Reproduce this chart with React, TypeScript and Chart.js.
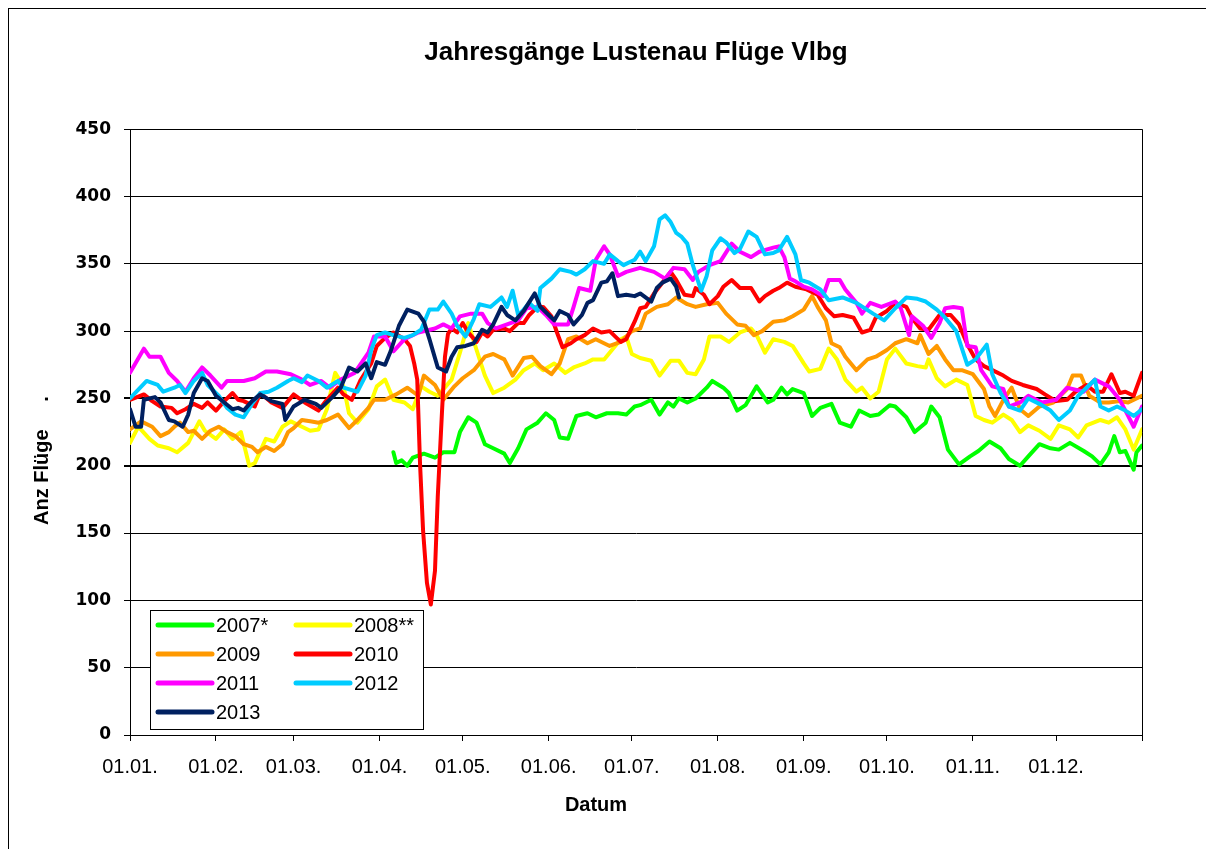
import React, { useEffect, useRef } from 'react';
import { Chart, registerables } from 'chart.js';

Chart.register(...registerables);

// Month starts (day of year) and their tick labels
const monthDays = [0, 31, 59, 90, 120, 151, 181, 212, 243, 273, 304, 334, 365];
const monthLabels = ['01.01.', '01.02.', '01.03.', '01.04.', '01.05.', '01.06.', '01.07.', '01.08.', '01.09.', '01.10.', '01.11.', '01.12.', ''];

const seriesLabels = ['2007*', '2008**', '2009', '2010', '2011', '2012', '2013'];
const seriesColors = ['#00FF00', '#FFFF00', '#FF9900', '#FF0000', '#FF00FF', '#00CCFF', '#002060'];

// [day of year, flights]
const s2007: [number, number][] = [
  [95, 210], [96, 202], [98, 204], [100, 200], [102, 206], [106, 209], [110, 206], [113, 210], [117, 210], [119, 225],
  [122, 236], [125, 232], [128, 216], [131, 213], [135, 209], [137, 202], [140, 213], [143, 227], [147, 232], [150, 239],
  [153, 234], [155, 221], [158, 220], [161, 237], [165, 239], [168, 236], [172, 239], [176, 239], [179, 238], [182, 244],
  [184, 245], [188, 249], [191, 238], [194, 247], [196, 244], [198, 250], [201, 247], [204, 250], [208, 258], [210, 263],
  [214, 258], [216, 254], [219, 241], [222, 245], [226, 259], [230, 247], [232, 249], [235, 258], [237, 253], [239, 257],
  [243, 254], [246, 237], [249, 243], [253, 246], [256, 232], [260, 229], [263, 241], [267, 237], [270, 238], [274, 245],
  [276, 244], [280, 236], [283, 225], [287, 232], [289, 244], [292, 236], [295, 212], [299, 201], [303, 207], [306, 211],
  [310, 218], [314, 213], [317, 205], [321, 200], [324, 207], [328, 216], [332, 213], [335, 212], [339, 217], [344, 211],
  [347, 207], [350, 201], [353, 210], [355, 222], [357, 210], [359, 211], [362, 197], [363, 210], [365, 215],
];

const s2008: [number, number][] = [
  [0, 217], [3, 229], [7, 220], [10, 215], [14, 213], [17, 210], [21, 217], [25, 233], [27, 226], [31, 220],
  [34, 227], [37, 220], [40, 225], [43, 200], [45, 202], [49, 220], [52, 218], [55, 229], [58, 233], [62, 229],
  [65, 226], [68, 227], [71, 242], [74, 269], [77, 259], [79, 239], [82, 232], [86, 242], [89, 259], [92, 264],
  [95, 249], [99, 247], [102, 242], [105, 259], [108, 255], [111, 252], [116, 264], [119, 284], [122, 306], [125, 286],
  [128, 267], [131, 254], [135, 258], [139, 264], [142, 271], [146, 276], [149, 271], [153, 276], [157, 269], [160, 273],
  [164, 276], [167, 279], [171, 279], [175, 289], [177, 294], [179, 296], [181, 283], [184, 280], [188, 278], [191, 267],
  [195, 278], [198, 278], [201, 269], [204, 268], [207, 279], [209, 296], [213, 296], [216, 292], [220, 299], [224, 302],
  [226, 297], [229, 284], [232, 294], [236, 292], [239, 289], [243, 276], [245, 270], [249, 272], [252, 287], [255, 279],
  [258, 264], [262, 255], [264, 258], [267, 250], [270, 255], [273, 279], [276, 287], [280, 276], [284, 274], [287, 273],
  [288, 279], [291, 265], [294, 259], [298, 264], [302, 260], [305, 237], [308, 234], [311, 232], [315, 238], [318, 234],
  [321, 225], [324, 230], [328, 226], [332, 220], [335, 230], [339, 227], [342, 221], [345, 230], [350, 234], [353, 232],
  [356, 236], [359, 227], [362, 212], [365, 227],
];

const s2009: [number, number][] = [
  [0, 227], [4, 233], [8, 229], [11, 222], [14, 225], [16, 229], [18, 232], [21, 225], [23, 226], [26, 220],
  [29, 226], [32, 229], [35, 225], [38, 222], [41, 216], [44, 214], [46, 210], [49, 214], [52, 211], [55, 216],
  [57, 225], [59, 228], [62, 234], [65, 233], [68, 232], [71, 234], [75, 238], [79, 228], [82, 234], [86, 243],
  [88, 249], [92, 249], [96, 253], [100, 258], [104, 252], [106, 267], [110, 260], [113, 249], [117, 259], [120, 265],
  [124, 271], [128, 281], [131, 283], [135, 279], [138, 267], [142, 280], [145, 281], [148, 274], [152, 268], [155, 276],
  [158, 294], [161, 296], [165, 291], [168, 294], [173, 289], [177, 292], [181, 300], [184, 302], [186, 313], [190, 318],
  [194, 320], [197, 325], [201, 320], [204, 318], [208, 320], [212, 321], [215, 313], [219, 305], [222, 304], [225, 297],
  [228, 300], [232, 307], [236, 308], [239, 311], [243, 316], [246, 326], [248, 318], [251, 308], [253, 291], [256, 288],
  [258, 281], [262, 271], [266, 279], [269, 281], [273, 286], [276, 291], [280, 294], [284, 291], [285, 297], [288, 283],
  [291, 289], [294, 279], [297, 271], [300, 271], [304, 268], [308, 257], [310, 244], [312, 237], [315, 249], [318, 258],
  [321, 242], [324, 237], [328, 244], [333, 247], [338, 257], [340, 267], [343, 267], [346, 252], [350, 247], [353, 247],
  [357, 248], [360, 247], [365, 252],
];

const s2010: [number, number][] = [
  [0, 249], [5, 253], [8, 248], [11, 244], [15, 243], [17, 239], [20, 242], [23, 246], [26, 243], [28, 247],
  [31, 241], [34, 248], [37, 254], [39, 249], [41, 248], [45, 244], [47, 254], [51, 247], [55, 243], [57, 248],
  [59, 253], [63, 247], [68, 241], [71, 249], [75, 258], [77, 253], [80, 249], [83, 263], [87, 276], [89, 289],
  [92, 295], [95, 299], [99, 294], [101, 289], [102.5, 276], [103.6, 264], [104.6, 202], [105.7, 152], [107.1, 113], [108.5, 97],
  [110, 122], [111, 177], [112.5, 239], [113.6, 281], [114.7, 298], [116, 302], [118, 299], [120, 306], [122, 299], [125, 292],
  [127, 299], [129, 296], [131, 301], [135, 302], [137, 300], [140, 306], [142, 306], [144, 312], [147, 318], [149, 318],
  [152, 311], [154, 299], [156, 288], [159, 291], [161, 294], [164, 297], [167, 302], [170, 299], [173, 300], [177, 292],
  [179, 294], [182, 307], [184, 317], [186, 318], [189, 328], [192, 336], [195, 344], [197, 338], [200, 327], [203, 326],
  [204, 332], [207, 327], [209, 320], [212, 326], [214, 333], [217, 338], [220, 332], [224, 332], [227, 322], [229, 326],
  [232, 330], [234, 332], [237, 336], [240, 333], [244, 331], [248, 327], [251, 317], [254, 311], [257, 312], [261, 310],
  [264, 299], [267, 301], [269, 310], [273, 315], [276, 321], [280, 318], [282, 310], [285, 302], [288, 301], [292, 312],
  [296, 312], [299, 305], [302, 290], [305, 279], [308, 274], [311, 271], [315, 267], [318, 263], [322, 260], [327, 257],
  [330, 253], [334, 248], [338, 249], [341, 255], [345, 260], [348, 255], [351, 255], [354, 268], [357, 254], [359, 255],
  [362, 252], [365, 269],
];

const s2011: [number, number][] = [
  [0, 269], [5, 287], [7, 281], [11, 281], [14, 269], [17, 263], [20, 255], [23, 265], [26, 273], [29, 267],
  [33, 258], [35, 263], [41, 263], [45, 265], [49, 270], [53, 270], [58, 268], [62, 264], [65, 260], [69, 263],
  [72, 258], [76, 264], [81, 269], [86, 284], [88, 296], [92, 296], [95, 285], [99, 294], [104, 299], [110, 302],
  [113, 305], [116, 302], [119, 311], [123, 313], [127, 313], [129, 306], [132, 302], [136, 305], [140, 308], [143, 317],
  [147, 318], [150, 312], [153, 305], [158, 305], [160, 318], [162, 332], [166, 330], [168, 353], [171, 363], [173, 357],
  [176, 341], [179, 344], [184, 347], [189, 344], [193, 339], [196, 347], [200, 346], [203, 338], [205, 344], [209, 349],
  [213, 352], [217, 365], [220, 359], [224, 355], [227, 359], [232, 362], [234, 363], [236, 355], [238, 339], [240, 337],
  [243, 333], [246, 331], [250, 326], [252, 338], [256, 338], [258, 331], [262, 321], [264, 313], [267, 321], [271, 318],
  [276, 322], [278, 317], [281, 297], [282, 311], [286, 304], [289, 295], [292, 306], [294, 317], [297, 318], [300, 317],
  [302, 289], [305, 288], [307, 271], [311, 259], [315, 257], [317, 244], [321, 247], [324, 252], [329, 247], [334, 249],
  [338, 258], [344, 255], [348, 264], [353, 259], [357, 249], [360, 237], [362, 229], [365, 244],
];

const s2012: [number, number][] = [
  [0, 250], [6, 263], [10, 260], [12, 255], [16, 258], [18, 260], [20, 254], [23, 263], [26, 269], [28, 260],
  [32, 252], [35, 243], [38, 238], [41, 236], [44, 246], [47, 254], [50, 255], [53, 258], [57, 263], [59, 265],
  [62, 262], [64, 267], [68, 263], [71, 258], [75, 263], [77, 258], [82, 255], [85, 267], [87, 286], [89, 297],
  [92, 299], [95, 297], [99, 295], [102, 297], [105, 301], [108, 316], [111, 316], [113, 322], [116, 313], [118, 304],
  [121, 296], [124, 309], [126, 320], [130, 318], [134, 325], [136, 318], [138, 330], [140, 312], [142, 316], [144, 321],
  [147, 315], [148, 332], [152, 339], [155, 346], [159, 344], [161, 342], [164, 346], [167, 352], [171, 350], [173, 357],
  [176, 352], [178, 349], [182, 353], [184, 359], [186, 352], [189, 363], [191, 383], [193, 386], [195, 381], [197, 373],
  [199, 370], [201, 365], [203, 349], [206, 330], [208, 341], [210, 360], [213, 369], [215, 366], [218, 358], [220, 361],
  [223, 374], [226, 370], [229, 357], [232, 358], [234, 360], [237, 370], [240, 357], [242, 338], [245, 336], [249, 331],
  [252, 323], [257, 325], [262, 321], [268, 313], [272, 308], [276, 317], [280, 325], [284, 324], [287, 322], [291, 316],
  [294, 310], [298, 300], [302, 275], [305, 279], [309, 290], [311, 268], [314, 254], [317, 244], [321, 241], [324, 250],
  [328, 246], [332, 241], [335, 234], [339, 241], [342, 252], [346, 260], [348, 264], [350, 244], [353, 241], [356, 244],
  [359, 241], [362, 237], [365, 242],
];

const s2013: [number, number][] = [
  [0, 242], [2, 229], [4, 229], [5, 249], [9, 251], [11, 247], [14, 234], [16, 233], [19, 229], [21, 238],
  [23, 254], [26, 265], [28, 263], [31, 252], [34, 247], [37, 242], [39, 243], [41, 241], [44, 248], [47, 253],
  [51, 248], [55, 246], [56, 234], [59, 244], [63, 249], [67, 246], [69, 243], [73, 251], [76, 258], [79, 273],
  [82, 270], [85, 276], [87, 265], [89, 277], [92, 275], [94, 285], [97, 304], [100, 316], [104, 313], [106, 307],
  [108, 294], [111, 273], [114, 270], [116, 281], [118, 288], [121, 289], [124, 291], [127, 301], [129, 299], [131, 305],
  [134, 318], [136, 312], [139, 308], [142, 315], [146, 328], [148, 318], [151, 312], [153, 308], [155, 315], [158, 312],
  [160, 305], [163, 312], [165, 321], [167, 323], [170, 336], [172, 337], [174, 343], [176, 326], [179, 327], [182, 326],
  [184, 328], [188, 322], [190, 332], [192, 336], [195, 339], [197, 333], [198, 325],
];

const allSeries = [s2007, s2008, s2009, s2010, s2011, s2012, s2013];

const decorPlugin = {
  id: 'decor',
  afterDraw(chart: any) {
    const { ctx, chartArea: a } = chart;
    ctx.save();
    // right border of plot area
    ctx.strokeStyle = '#000';
    ctx.lineWidth = 1;
    const rx = Math.round(a.right) + 0.5;
    ctx.beginPath();
    ctx.moveTo(rx, a.top);
    ctx.lineTo(rx, a.bottom);
    ctx.stroke();

    // axis titles
    ctx.fillStyle = '#000';
    ctx.font = 'bold 20px "Liberation Sans", Arial, sans-serif';
    ctx.textBaseline = 'middle';
    ctx.textAlign = 'center';
    ctx.fillText('Datum', a.left + 466, a.bottom + 70);

    ctx.save();
    ctx.translate(a.left - 88, a.bottom - 210);
    ctx.rotate(-Math.PI / 2);
    ctx.textAlign = 'left';
    ctx.fillText('Anz Flüge     .', 0, 0);
    ctx.restore();

    // legend box
    const bx = a.left + 20;
    const by = a.bottom - 125;
    ctx.fillStyle = '#fff';
    ctx.fillRect(bx, by, 273, 119);
    ctx.strokeStyle = '#000';
    ctx.lineWidth = 1;
    ctx.strokeRect(bx + 0.5, by + 0.5, 273, 119);

    ctx.font = '20px "Liberation Sans", Arial, sans-serif';
    ctx.textAlign = 'left';
    ctx.textBaseline = 'middle';
    chart.data.datasets.forEach((ds: any, i: number) => {
      const col = i % 2;
      const row = Math.floor(i / 2);
      const y = by + 15 + row * 29;
      const x0 = bx + 8 + col * 138;
      ctx.strokeStyle = ds.borderColor;
      ctx.lineWidth = 5;
      ctx.lineCap = 'round';
      ctx.beginPath();
      ctx.moveTo(x0, y);
      ctx.lineTo(x0 + 54, y);
      ctx.stroke();
      ctx.fillStyle = '#000';
      ctx.fillText(ds.label, x0 + 58, y + 1);
    });
    ctx.restore();
  },
};

export default function App() {
  const canvasRef = useRef<HTMLCanvasElement | null>(null);

  useEffect(() => {
    if (!canvasRef.current) return;
    const datasets = allSeries.map((s, i) => ({
      label: seriesLabels[i],
      data: s.map(([x, y]) => ({ x, y })),
      borderColor: seriesColors[i],
      backgroundColor: seriesColors[i],
      borderWidth: 4,
      pointRadius: 0,
      tension: 0,
      fill: false,
      borderJoinStyle: 'round' as const,
      borderCapStyle: 'round' as const,
      order: allSeries.length - 1 - i,
    }));

    const chart = new Chart(canvasRef.current, {
      type: 'line',
      data: { datasets },
      plugins: [decorPlugin],
      options: {
        animation: false,
        responsive: false,
        layout: { padding: { left: 0, right: 70, top: 0, bottom: 24 } },
        plugins: {
          legend: { display: false },
          tooltip: { enabled: false },
          title: {
            display: true,
            text: 'Jahresgänge Lustenau Flüge Vlbg',
            fullSize: false,
            color: '#000',
            font: { family: '"Liberation Sans", Arial, sans-serif', size: 26, weight: 'bold' },
            padding: { top: 28, bottom: 61 },
          },
        },
        scales: {
          x: {
            type: 'linear',
            min: 0,
            max: 365,
            afterBuildTicks: (scale: any) => {
              scale.ticks = monthDays.map((v) => ({ value: v }));
            },
            afterFit: (scale: any) => {
              scale.height = 90;
            },
            ticks: {
              autoSkip: false,
              maxRotation: 0,
              minRotation: 0,
              padding: 14,
              color: '#000',
              font: { family: '"Liberation Sans", Arial, sans-serif', size: 20 },
              callback: (value: any) => {
                const idx = monthDays.indexOf(Number(value));
                return idx >= 0 ? monthLabels[idx] : '';
              },
            },
            grid: { drawOnChartArea: false, color: '#000', tickLength: 6 },
            border: { color: '#000', width: 1 },
          },
          y: {
            min: 0,
            max: 450,
            afterFit: (scale: any) => {
              scale.width = 121;
            },
            ticks: {
              stepSize: 50,
              padding: 13,
              color: '#000',
              font: { family: '"DejaVu Sans", Verdana, sans-serif', size: 17, weight: 'bold' },
            },
            grid: {
              color: '#000',
              tickLength: 6,
              lineWidth: (ctx: any) => (ctx.tick && (ctx.tick.value === 200 || ctx.tick.value === 250) ? 2 : 1),
            },
            border: { color: '#000', width: 1 },
          },
        },
      },
    });
    return () => chart.destroy();
  }, []);

  return (
    <div style={{ width: 1203, height: 845, border: '1px solid #000', background: '#fff' }}>
      <canvas ref={canvasRef} width={1203} height={840} style={{ display: 'block' }} />
    </div>
  );
}
